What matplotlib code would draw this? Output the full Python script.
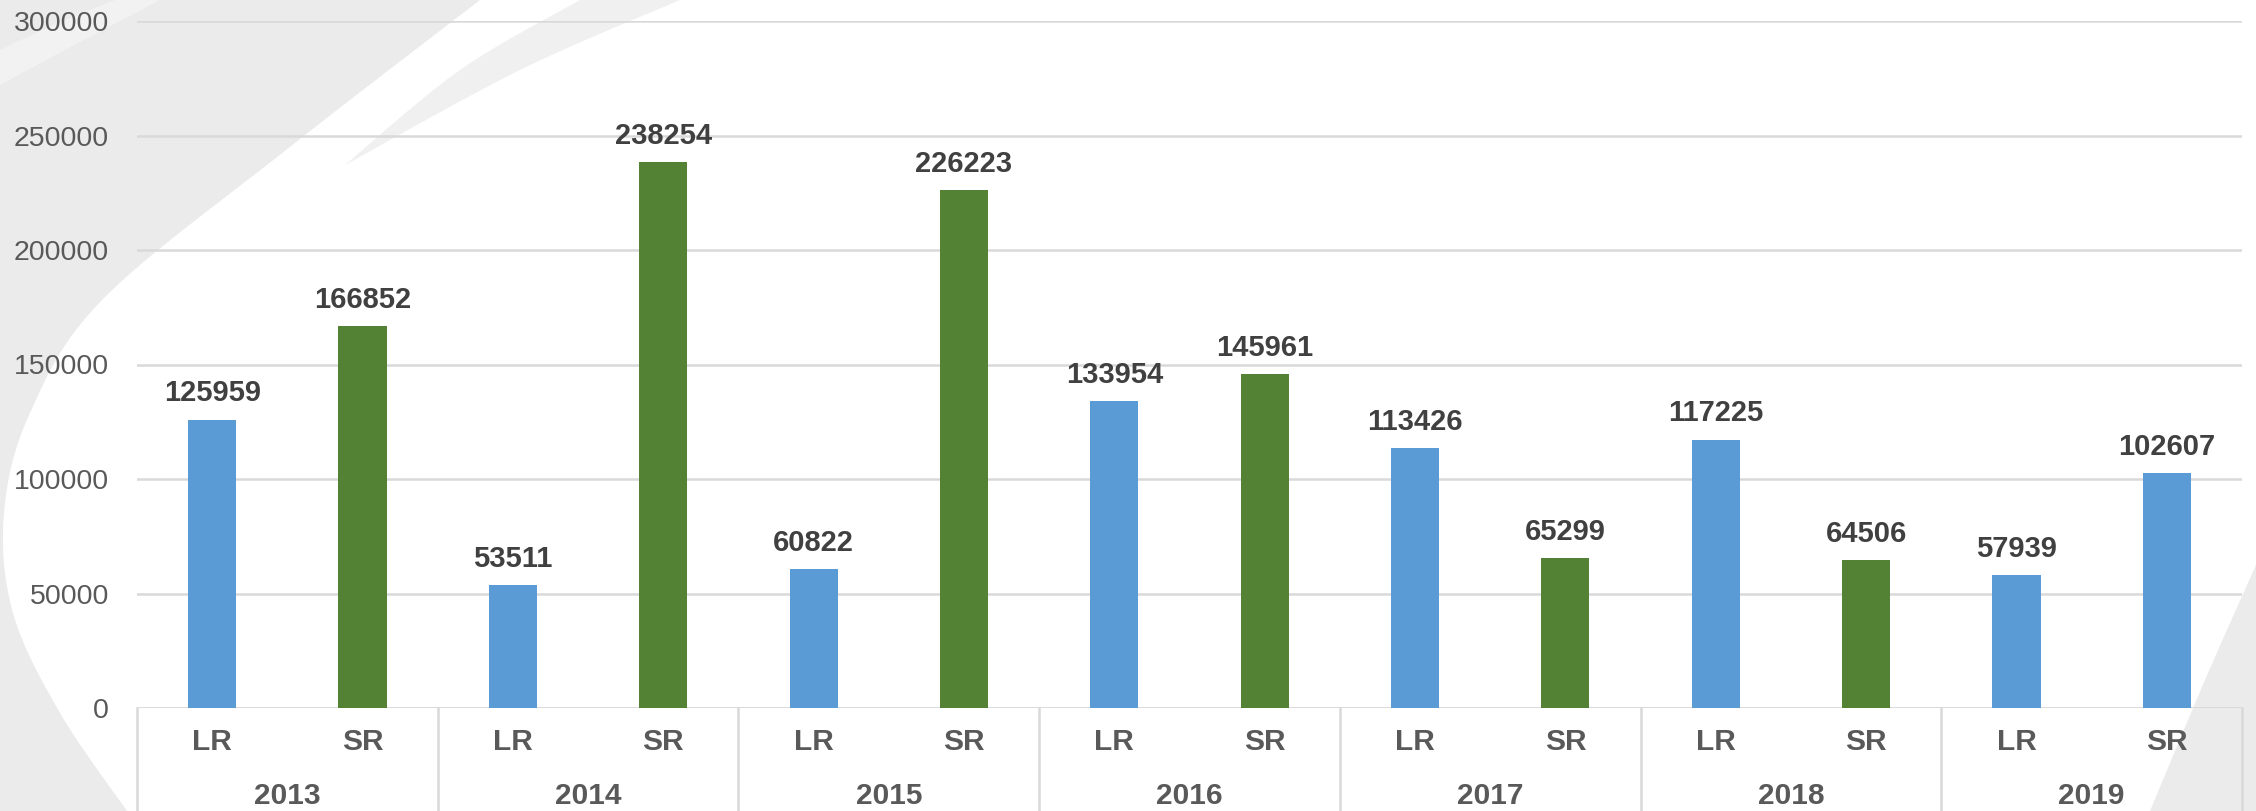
import numpy as np
import matplotlib
matplotlib.use("Agg")
import matplotlib.pyplot as plt
from matplotlib.patches import Polygon
import matplotlib.transforms as mtransforms

plt.rcParams['font.family'] = ['Liberation Sans', 'DejaVu Sans']

# ---- data ----
years = ['2013', '2014', '2015', '2016', '2017', '2018', '2019']
types = ['LR', 'SR']
lr_values = [125959, 53511, 60822, 133954, 113426, 117225, 57939]
sr_values = [166852, 238254, 226223, 145961, 65299, 64506, 102607]
y_ticks = [0, 50000, 100000, 150000, 200000, 250000, 300000]

# ---- style ----
BLUE = '#5B9BD5'
GREEN = '#548235'
sr_colors = [GREEN, GREEN, GREEN, GREEN, GREEN, GREEN, BLUE]
GRID = '#D9D9D9'
W, H = 2256, 811

fig = plt.figure(figsize=(W / 100, H / 100), dpi=100)
fig.patch.set_facecolor('white')

# ---- background swirl (decoration) ----
bg = fig.add_axes([0, 0, 1, 1], zorder=0)
bg.set_xlim(0, W)
bg.set_ylim(H, 0)
bg.axis('off')


def catmull(pts, n=20):
    pts = np.asarray(pts, float)
    p = np.vstack([pts[0], pts, pts[-1]])
    out = []
    for i in range(1, len(p) - 2):
        p0, p1, p2, p3 = p[i - 1], p[i], p[i + 1], p[i + 2]
        for t in np.linspace(0, 1, n, endpoint=False):
            t2, t3 = t * t, t * t * t
            out.append(0.5 * ((2 * p1) + (-p0 + p2) * t + (2 * p0 - 5 * p1 + 4 * p2 - p3) * t2
                              + (-p0 + 3 * p1 - 3 * p2 + p3) * t3))
    out.append(pts[-1])
    return np.array(out)


left_edge = catmull([(480, 0), (286, 150), (102, 300), (30, 413), (4, 513),
                     (13, 613), (60, 713), (127, 811)])
poly = np.vstack([[(0, 0)], left_edge, [(0, 811)]])
bg.add_patch(Polygon(poly, closed=True, facecolor='#EBEBEB', edgecolor='none'))

# lighter band in the top-left corner
band = np.vstack([catmull([(0, 50), (60, 22), (115, 0)]),
                  catmull([(160, 0), (80, 42), (0, 85)])])
bg.add_patch(Polygon(band, closed=True, facecolor='#F2F2F2', edgecolor='none'))

# thin sliver at the top
outer = catmull([(680, 0), (520, 70), (345, 165)])
inner = catmull([(345, 165), (460, 70), (580, 0)])
bg.add_patch(Polygon(np.vstack([outer, inner]), closed=True, facecolor='#F0F0F0', edgecolor='none'))

# bottom-right wedge
br = np.vstack([catmull([(2256, 565), (2205, 680), (2150, 811)]), [(2256, 811)]])
bg.add_patch(Polygon(br, closed=True, facecolor='#EBEBEB', edgecolor='none'))

# ---- main chart ----
x0, x1, y0, y1 = 137, 2242, 708, 21
ax = fig.add_axes([x0 / W, (H - y0) / H, (x1 - x0) / W, (y0 - y1) / H], zorder=1)
ax.patch.set_alpha(0)

n = len(years)
lr_x = np.arange(n) * 2
sr_x = np.arange(n) * 2 + 1
bw = 0.32
ax.bar(lr_x, lr_values, width=bw, color=BLUE, zorder=3)
ax.bar(sr_x, sr_values, width=bw, color=sr_colors, zorder=3)

for xs, vals in ((lr_x, lr_values), (sr_x, sr_values)):
    for x, v in zip(xs, vals):
        ax.annotate(str(v), (x, v), xytext=(0, 13), textcoords='offset points',
                    ha='center', va='baseline', fontsize=21, fontweight='bold',
                    color='#404040', zorder=4)

ax.set_xlim(-0.5, 2 * n - 0.5)
ax.set_ylim(0, 300000)
ax.set_yticks(y_ticks)
ax.set_yticklabels([str(t) for t in y_ticks])
ax.tick_params(axis='y', length=0, pad=20, labelsize=20.5, labelcolor='#595959')
ax.set_xticks([])
ax.yaxis.grid(True, color=GRID, lw=1.8, zorder=0)
ax.set_axisbelow(True)
for s in ax.spines.values():
    s.set_visible(False)

trans = mtransforms.blended_transform_factory(ax.transData, ax.transAxes)
ax.axhline(0, color=GRID, lw=1.8, zorder=2)
for k in range(n + 1):
    xb = -0.5 + 2 * k
    ax.plot([xb, xb], [0, -0.25], transform=trans, color=GRID, lw=1.8, clip_on=False)

lab_y = (y0 - 742.5) / (y0 - y1)
yr_y = (y0 - 796) / (y0 - y1)
for i, yr in enumerate(years):
    for j, t in enumerate(types):
        ax.text(2 * i + j, lab_y, t, transform=trans, ha='center', va='center',
                fontsize=21.5, fontweight='bold', color='#595959')
    ax.text(2 * i + 0.5, yr_y, yr, transform=trans, ha='center', va='center',
            fontsize=21.5, fontweight='bold', color='#595959')

fig.savefig('out.png', dpi=100, facecolor='white')
